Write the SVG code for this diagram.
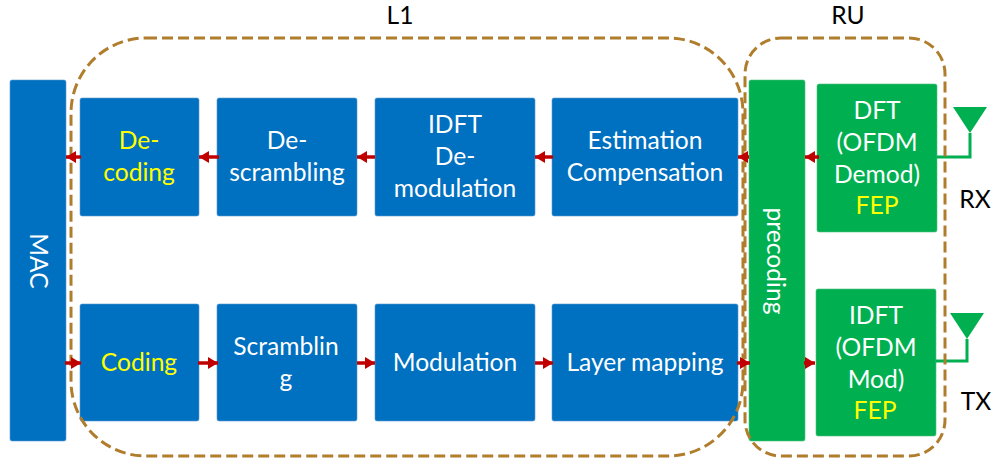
<svg xmlns="http://www.w3.org/2000/svg" width="993" height="459" viewBox="0 0 993 459">
<style>
text{font-family:"Lato","Carlito","Liberation Sans",sans-serif;font-size:24.6px;text-anchor:middle;fill:#fff}
.y{fill:#ff0}
.k{fill:#000}
.b{fill:#0070c0;stroke:#5b9bd5;stroke-width:.6}
.g{fill:#00b050;stroke:#4fc07f;stroke-width:.6}
.d{fill:none;stroke:#b07d2c;stroke-width:3;stroke-dasharray:11 5}
.a{stroke:#c00000;stroke-width:3.5;fill:none;marker-end:url(#h)}
.s{stroke:#00b050;stroke-width:3;fill:none}
</style>
<defs><marker id="h" markerUnits="userSpaceOnUse" markerWidth="12" markerHeight="14" refX="10" refY="7" orient="auto"><path d="M0 1L10 7L0 13Z" fill="#c00000"/></marker></defs>
<g id="mac"><rect class="b" x="10" y="80" width="56" height="361" rx="2"/><text transform="translate(36 261) rotate(90)" dominant-baseline="middle">MAC</text></g>
<g id="precoding"><rect class="g" x="749" y="80" width="56" height="361" rx="2"/><text transform="translate(767 261) rotate(90)">precoding</text></g>
<g id="decoding"><rect class="b" x="80" y="98" width="119" height="118" rx="2"/><text class="y" x="139" y="149">De-</text><text class="y" x="139" y="181">coding</text></g>
<g id="descrambling"><rect class="b" x="217" y="98" width="140" height="118" rx="2"/><text x="287" y="149">De-</text><text x="287" y="181">scrambling</text></g>
<g id="idft-demod"><rect class="b" x="375" y="98" width="160" height="118" rx="2"/><text x="455" y="133">IDFT</text><text x="455" y="165">De-</text><text x="455" y="197">modulation</text></g>
<g id="estimation"><rect class="b" x="552" y="98" width="186" height="118" rx="2"/><text x="645" y="149">Estimation</text><text x="645" y="181">Compensation</text></g>
<g id="coding"><rect class="b" x="80" y="304" width="119" height="117" rx="2"/><text class="y" x="139" y="371">Coding</text></g>
<g id="scrambling"><rect class="b" x="217" y="304" width="140" height="117" rx="2"/><text x="286" y="355">Scramblin</text><text x="286" y="387">g</text></g>
<g id="modulation"><rect class="b" x="375" y="304" width="160" height="117" rx="2"/><text x="455" y="371">Modulation</text></g>
<g id="layer-mapping"><rect class="b" x="552" y="304" width="186" height="117" rx="2"/><text x="645" y="371">Layer mapping</text></g>
<g id="dft"><rect class="g" x="817" y="84" width="120" height="148" rx="2"/><text x="877" y="119">DFT</text><text x="877" y="151">(OFDM</text><text x="877" y="183">Demod)</text><text class="y" x="877" y="214">FEP</text></g>
<g id="idft"><rect class="g" x="816" y="289" width="120" height="147" rx="2"/><text x="876" y="324">IDFT</text><text x="876" y="356">(OFDM</text><text x="876" y="388">Mod)</text><text class="y" x="875" y="419">FEP</text></g>
<g id="ant-rx"><path d="M953 107H987L970 133Z" fill="#00b050"/><path class="s" d="M970 133V157H937"/><text class="k" x="975" y="208">RX</text></g>
<g id="ant-tx"><path d="M950 313H984L967 339Z" fill="#00b050"/><path class="s" d="M967 339V361H936"/><text class="k" x="976" y="410">TX</text></g>
<g id="l1"><rect class="d" x="71" y="38" width="672" height="418" rx="75"/><text class="k" x="400" y="24">L1</text></g>
<g id="ru"><rect class="d" x="745" y="38" width="200" height="418" rx="36"/><text class="k" x="848" y="24">RU</text></g>
<g id="connectors">
<path class="a" d="M81 157H66"/><path class="a" d="M219 157H199"/><path class="a" d="M375 157H357"/><path class="a" d="M553 157H535"/><path class="a" d="M749 157H738"/><path class="a" d="M819 157H805"/>
<path class="a" d="M65 363H81"/><path class="a" d="M198 363H218"/><path class="a" d="M357 363H375"/><path class="a" d="M535 363H553"/><path class="a" d="M737 363H750"/><path class="a" d="M804 363H815"/>
</g>
</svg>
